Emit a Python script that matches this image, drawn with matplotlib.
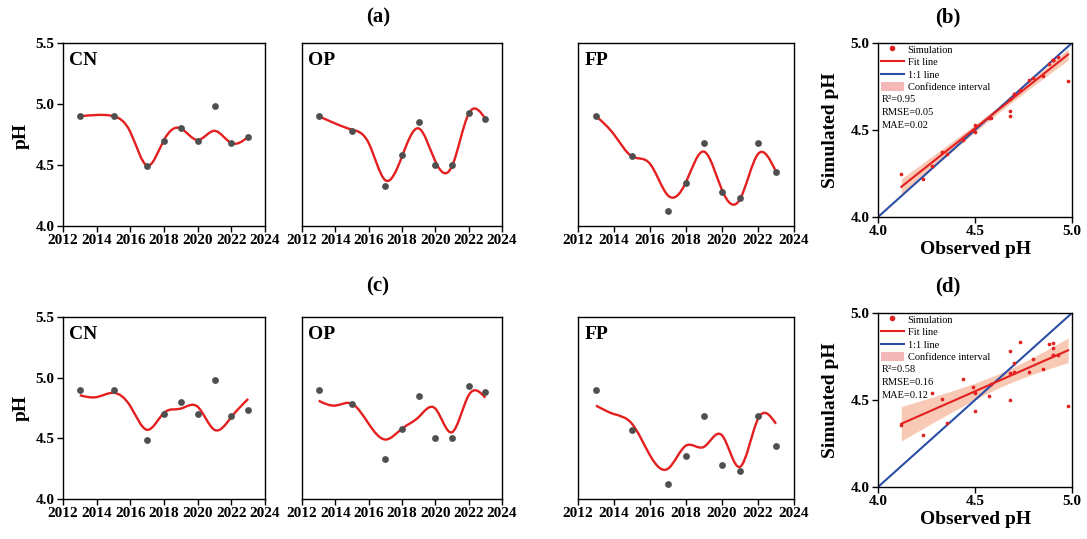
import numpy as np
import matplotlib
matplotlib.use("Agg")
import matplotlib.pyplot as plt
from matplotlib.path import Path
from matplotlib.patches import PathPatch, Patch
from matplotlib.lines import Line2D

plt.rcParams['font.family'] = ['Liberation Serif', 'DejaVu Serif']
plt.rcParams['font.weight'] = 'bold'

# ---------------- data ----------------
years_obs = [2013, 2015, 2017, 2018, 2019, 2020, 2021, 2022, 2023]
years_curve = [2013, 2014, 2015, 2016, 2017, 2018, 2019, 2020, 2021, 2022, 2023]
sites = ['CN', 'OP', 'FP']

obs_CN = [4.90, 4.90, 4.49, 4.70, 4.80, 4.70, 4.98, 4.68, 4.73]
obs_OP = [4.90, 4.78, 4.33, 4.58, 4.85, 4.50, 4.50, 4.93, 4.88]
obs_FP = [4.90, 4.57, 4.12, 4.355, 4.68, 4.28, 4.23, 4.68, 4.44]

# simulated curves, row (a)
curve_a_CN = [4.90, 4.91, 4.90, 4.77, 4.495, 4.705, 4.80, 4.705, 4.78, 4.68, 4.73]
curve_a_OP = [4.90, 4.84, 4.79, 4.68, 4.375, 4.57, 4.80, 4.53, 4.49, 4.92, 4.88]
curve_a_FP = [4.90, 4.75, 4.57, 4.51, 4.25, 4.36, 4.61, 4.295, 4.22, 4.59, 4.445]

# simulated curves, row (c)
curve_c_CN = [4.855, 4.84, 4.875, 4.765, 4.57, 4.71, 4.745, 4.76, 4.57, 4.675, 4.825]
curve_c_OP = [4.81, 4.77, 4.785, 4.62, 4.49, 4.58, 4.675, 4.745, 4.55, 4.855, 4.835]
curve_c_FP = [4.77, 4.70, 4.62, 4.36, 4.25, 4.44, 4.43, 4.525, 4.265, 4.66, 4.62]

# simulated values for scatter (b)
sim_b_CN = [4.90, 4.90, 4.50, 4.705, 4.80, 4.705, 4.78, 4.68, 4.73]
sim_b_OP = [4.90, 4.79, 4.375, 4.57, 4.81, 4.53, 4.49, 4.92, 4.88]
sim_b_FP = [4.90, 4.57, 4.25, 4.36, 4.61, 4.295, 4.22, 4.58, 4.445]

# simulated values for scatter (d)
sim_d_CN = [4.83, 4.80, 4.576, 4.71, 4.733, 4.66, 4.466, 4.656, 4.834]
sim_d_OP = [4.756, 4.66, 4.504, 4.59, 4.68, 4.538, 4.439, 4.758, 4.82]
sim_d_FP = [4.76, 4.521, 4.359, 4.368, 4.50, 4.538, 4.296, 4.782, 4.622]

stats_b = ['R²=0.95', 'RMSE=0.05', 'MAE=0.02']
stats_d = ['R²=0.58', 'RMSE=0.16', 'MAE=0.12']

year_ticks = [2012, 2014, 2016, 2018, 2020, 2022, 2024]
ph_ticks = [4.0, 4.5, 5.0, 5.5]
sc_ticks = [4.0, 4.5, 5.0]

RED = '#e41f1f'
GREY = '#4f4f4f'
BLUE = '#2a4fa5'
BAND = '#f4a582'


def spline_path(x, y):
    """Natural cubic spline drawn as Bezier segments."""
    x = np.asarray(x, float); y = np.asarray(y, float)
    n = len(x); h = np.diff(x)
    A = np.zeros((n, n)); b = np.zeros(n)
    A[0, 0] = A[-1, -1] = 1
    for i in range(1, n - 1):
        A[i, i - 1] = h[i - 1]; A[i, i] = 2 * (h[i - 1] + h[i]); A[i, i + 1] = h[i]
        b[i] = 6 * ((y[i + 1] - y[i]) / h[i] - (y[i] - y[i - 1]) / h[i - 1])
    M = np.linalg.solve(A, b)
    m = np.empty(n)
    m[:-1] = (y[1:] - y[:-1]) / h - h * (2 * M[:-1] + M[1:]) / 6
    m[-1] = (y[-1] - y[-2]) / h[-1] + h[-1] * (M[-2] + 2 * M[-1]) / 6
    verts = [(x[0], y[0])]; codes = [Path.MOVETO]
    for i in range(n - 1):
        verts += [(x[i] + h[i] / 3, y[i] + m[i] * h[i] / 3),
                  (x[i + 1] - h[i] / 3, y[i + 1] - m[i + 1] * h[i] / 3),
                  (x[i + 1], y[i + 1])]
        codes += [Path.CURVE4] * 3
    return Path(verts, codes)


W, H = 1087, 539
fig = plt.figure(figsize=(W / 100, H / 100), dpi=100)


def px_axes(x0, x1, ytop, ybot):
    return fig.add_axes([x0 / W, 1 - ybot / H, (x1 - x0) / W, (ybot - ytop) / H])


def style(ax):
    for s in ax.spines.values():
        s.set_linewidth(1.0)
    ax.tick_params(direction='out', length=4, width=1.0, labelsize=11, pad=2)
    for lab in ax.get_xticklabels() + ax.get_yticklabels():
        lab.set_fontweight('bold')


obs = {'CN': obs_CN, 'OP': obs_OP, 'FP': obs_FP}
curves = {'a': {'CN': curve_a_CN, 'OP': curve_a_OP, 'FP': curve_a_FP},
          'c': {'CN': curve_c_CN, 'OP': curve_c_OP, 'FP': curve_c_FP}}
xpos = {'CN': (63, 265), 'OP': (302, 502), 'FP': (578, 794)}
rows = {'a': (43, 226), 'c': (317, 499)}

for row, (yt, yb) in rows.items():
    for s in sites:
        ax = px_axes(xpos[s][0], xpos[s][1], yt, yb)
        patch = PathPatch(spline_path(years_curve, curves[row][s]), fill=False,
                          edgecolor=RED, lw=1.7, zorder=2)
        ax.add_patch(patch)
        ax.scatter(years_obs, obs[s], s=24, color=GREY, zorder=3, linewidths=0)
        ax.set_xlim(2012, 2024)
        ax.set_ylim(4.0, 5.5)
        ax.set_xticks(year_ticks)
        ax.set_yticks(ph_ticks)
        ax.set_yticklabels([f'{v:.1f}' for v in ph_ticks])
        if s != 'CN':
            ax.tick_params(axis='y', left=False, labelleft=False)
        style(ax)
        ax.text(0.03, 0.905, s, transform=ax.transAxes, fontsize=14,
                fontweight='bold', ha='left', va='center')

# ---------------- scatter panels ----------------
scat = {'b': ((43, 217), [sim_b_CN, sim_b_OP, sim_b_FP], stats_b),
        'd': ((313, 487), [sim_d_CN, sim_d_OP, sim_d_FP], stats_d)}
obs_all = np.array(obs_CN + obs_OP + obs_FP)
for key, ((yt, yb), sims, stats) in scat.items():
    ax = px_axes(878, 1072, yt, yb)
    x = obs_all
    y = np.array(sims[0] + sims[1] + sims[2])
    slope, icpt = np.polyfit(x, y, 1)
    xs = np.linspace(x.min(), x.max(), 100)
    yfit = slope * xs + icpt
    n = len(x)
    resid = y - (slope * x + icpt)
    se = np.sqrt(np.sum(resid ** 2) / (n - 2))
    sxx = np.sum((x - x.mean()) ** 2)
    ci = 2.06 * se * np.sqrt(1 / n + (xs - x.mean()) ** 2 / sxx)
    ax.fill_between(xs, yfit - ci, yfit + ci, color=BAND, alpha=0.6, lw=0, zorder=1)
    ax.plot([4.0, 5.0], [4.0, 5.0], color=BLUE, lw=1.5, zorder=2)
    ax.plot(xs, yfit, color=RED, lw=1.5, zorder=3)
    ax.scatter(x, y, s=7, color=RED, zorder=4, linewidths=0)
    ax.set_xlim(4.0, 5.0); ax.set_ylim(4.0, 5.0)
    ax.set_xticks(sc_ticks); ax.set_yticks(sc_ticks)
    ax.set_xticklabels([f'{v:.1f}' for v in sc_ticks])
    ax.set_yticklabels([f'{v:.1f}' for v in sc_ticks])
    style(ax)
    handles = [Line2D([], [], ls='', marker='o', ms=3, color=RED),
               Line2D([], [], color=RED, lw=1.5),
               Line2D([], [], color=BLUE, lw=1.5),
               Patch(facecolor='#f5b8b8', edgecolor='none')]
    labels = ['Simulation', 'Fit line', '1:1 line', 'Confidence interval']
    ax.legend(handles, labels, loc='upper left', bbox_to_anchor=(-0.03, 1.04),
              frameon=False, prop={'size': 7.5, 'weight': 'normal'},
              handlelength=2.3, handleheight=1.0, labelspacing=0.22,
              handletextpad=0.3, borderpad=0.3)
    for i, t in enumerate(stats):
        ax.text(0.02, 0.675 - i * 0.075, t, transform=ax.transAxes, fontsize=7.5,
                fontweight='normal', ha='left', va='center')
    fig.text(976 / W, 1 - (yb + 32) / H, 'Observed pH', fontsize=14,
             fontweight='bold', ha='center', va='center')
    fig.text(831 / W, 1 - ((yt + yb) / 2) / H, 'Simulated pH', fontsize=14,
             fontweight='bold', ha='center', va='center', rotation=90)

# titles and y labels
for lab, (xc, yc) in {'(a)': (378, 17), '(b)': (948, 17),
                      '(c)': (378, 286), '(d)': (948, 286)}.items():
    fig.text(xc / W, 1 - yc / H, lab, fontsize=15, fontweight='bold',
             ha='center', va='center')
for yc in (136, 408):
    fig.text(21 / W, 1 - yc / H, 'pH', fontsize=14, fontweight='bold',
             ha='center', va='center', rotation=90)

fig.savefig('out.png', dpi=100)
